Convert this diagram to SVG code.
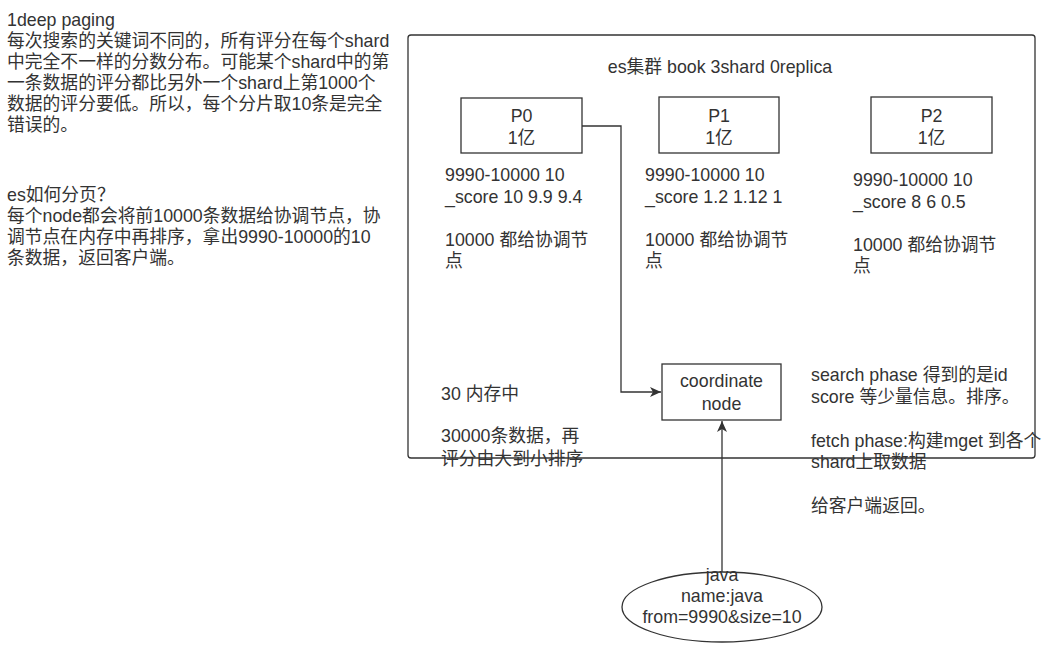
<svg xmlns="http://www.w3.org/2000/svg" width="1063" height="646" viewBox="0 0 1063 646">
<defs>
<style>
text{font-family:"Liberation Sans","Noto Sans CJK SC",sans-serif;font-size:17.8px;fill:#333}
.c{text-anchor:middle}
.box{fill:#fff;stroke:#333;stroke-width:1.3}
.ln{fill:none;stroke:#333;stroke-width:1.3}
</style>
<marker id="arr" markerUnits="userSpaceOnUse" markerWidth="12" markerHeight="10" refX="11" refY="5" orient="auto">
<path d="M0,0 L11,5 L0,10 L3,5 Z" fill="#333"/>
</marker>
</defs>
<rect width="1063" height="646" fill="#fff"/>
<g id="notes-left">
<text x="7" y="26">1deep paging</text>
<text x="7" y="47">每次搜索的关键词不同的，所有评分在每个shard</text>
<text x="7" y="68">中完全不一样的分数分布。可能某个shard中的第</text>
<text x="7" y="89">一条数据的评分都比另外一个shard上第1000个</text>
<text x="7" y="110">数据的评分要低。所以，每个分片取10条是完全</text>
<text x="7" y="131">错误的。</text>
<text x="7" y="201">es如何分页？</text>
<text x="7" y="222">每个node都会将前10000条数据给协调节点，协</text>
<text x="7" y="243">调节点在内存中再排序，拿出9990-10000的10</text>
<text x="7" y="264">条数据，返回客户端。</text>
</g>
<g id="cluster">
<rect x="408" y="35" width="627" height="423" rx="3" class="ln"/>
<text class="c" x="720" y="73">es集群 book 3shard 0replica</text>
</g>
<g id="connectors">
<path class="ln" d="M582,126 H621 V392 H661" marker-end="url(#arr)"/>
<path class="ln" d="M722,572 V421" marker-end="url(#arr)"/>
</g>
<g id="p0">
<rect class="box" x="461" y="98" width="121" height="55"/>
<text class="c" x="521.5" y="122">P0</text>
<text class="c" x="521.5" y="144">1亿</text>
</g>
<g id="p1">
<rect class="box" x="659" y="97" width="120" height="56"/>
<text class="c" x="719" y="122">P1</text>
<text class="c" x="719" y="144">1亿</text>
</g>
<g id="p2">
<rect class="box" x="871" y="97" width="121" height="56"/>
<text class="c" x="931.5" y="122">P2</text>
<text class="c" x="931.5" y="144">1亿</text>
</g>
<g id="p0-notes">
<text x="445" y="181">9990-10000 10</text>
<text x="445" y="203">_score 10 9.9 9.4</text>
<text x="445" y="246">10000 都给协调节</text>
<text x="445" y="267">点</text>
</g>
<g id="p1-notes">
<text x="645" y="181">9990-10000 10</text>
<text x="645" y="203">_score 1.2 1.12 1</text>
<text x="645" y="246">10000 都给协调节</text>
<text x="645" y="267">点</text>
</g>
<g id="p2-notes">
<text x="853" y="186">9990-10000 10</text>
<text x="853" y="208">_score 8 6 0.5</text>
<text x="853" y="251">10000 都给协调节</text>
<text x="853" y="272">点</text>
</g>
<g id="coordinate">
<rect class="box" x="662" y="364" width="119" height="56"/>
<text class="c" x="721.5" y="387">coordinate</text>
<text class="c" x="721.5" y="410">node</text>
</g>
<g id="memory-notes">
<text x="441" y="400">30 内存中</text>
<text x="441" y="442">30000条数据，再</text>
<text x="441" y="465">评分由大到小排序</text>
</g>
<g id="phase-notes">
<text x="811" y="381">search phase 得到的是id</text>
<text x="811" y="403">score 等少量信息。排序。</text>
<text x="811" y="447">fetch phase:构建mget 到各个</text>
<text x="811" y="468">shard上取数据</text>
<text x="811" y="512">给客户端返回。</text>
</g>
<g id="java">
<ellipse cx="722" cy="607" rx="100" ry="35" class="ln"/>
<text class="c" x="722" y="581">java</text>
<text class="c" x="722" y="602">name:java</text>
<text class="c" x="722" y="623">from=9990&amp;size=10</text>
</g>
</svg>
